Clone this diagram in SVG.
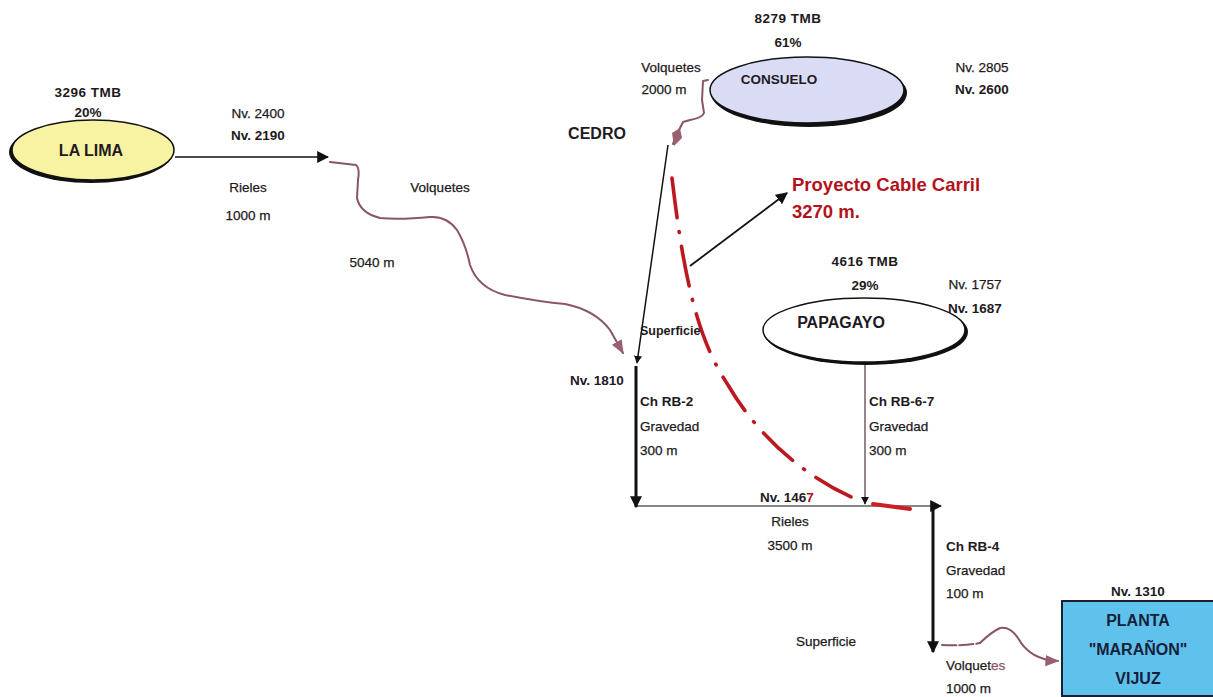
<svg xmlns="http://www.w3.org/2000/svg" width="1213" height="697" viewBox="0 0 1213 697">
<defs>
<style>
text{font-family:"Liberation Sans",Arial,sans-serif;fill:#1e1a22;}
.t{font-size:13.5px;stroke:#1e1a22;stroke-width:0.25px;}
.b{font-size:13.5px;font-weight:bold;}
.c{text-anchor:middle;}
.big{font-size:16px;font-weight:bold;}
.red{fill:#b3121b;font-size:18.5px;font-weight:bold;}
.blk{stroke:#111;fill:none;}
.mau{stroke:#8a5565;fill:none;stroke-width:2;stroke-linecap:round;stroke-linejoin:round;}
</style>
<marker id="ab" viewBox="0 0 10 10" refX="9" refY="5" markerWidth="8" markerHeight="8" markerUnits="userSpaceOnUse" orient="auto"><path d="M0,0 L10,5 L0,10 z" fill="#111"/></marker>
<marker id="abL" viewBox="0 0 10 10" refX="9" refY="5" markerWidth="12" markerHeight="12" markerUnits="userSpaceOnUse" orient="auto"><path d="M0,0 L10,5 L0,10 z" fill="#111"/></marker>
<marker id="am" viewBox="0 0 10 10" refX="9" refY="5" markerWidth="14" markerHeight="14" markerUnits="userSpaceOnUse" orient="auto"><path d="M0,1 L10,5 L0,9 z" fill="#9a6070"/></marker>
</defs>
<rect width="1213" height="697" fill="#ffffff"/>

<g id="connectors">
<line class="blk" x1="175" y1="157" x2="328" y2="157" stroke-width="1.5" marker-end="url(#abL)"/>
<path class="mau" d="M330,162 L356,165 Q360,168 358,180 L357,198 Q360,213 380,218 Q400,220 430,217 Q447,216 457,230 Q466,245 470,265 Q478,288 505,295 Q540,302 565,304 Q595,310 610,330 L623,353" marker-end="url(#am)"/>
<path class="mau" d="M708,80 L703,81 L702,100 L704,113 Q702,118 690,120 L683,122 L678,132 L673,144" stroke-width="2.5"/>
<path d="M672,133 L680,128 L682,138 L674,146 z" fill="#9a6070"/>
<line class="blk" x1="668" y1="145" x2="637" y2="363" stroke-width="1.5" marker-end="url(#ab)"/>
<line class="blk" x1="636" y1="366" x2="636" y2="507" stroke-width="3" marker-end="url(#abL)"/>
<line class="blk" x1="636" y1="506" x2="941" y2="506" stroke-width="1.2" marker-end="url(#abL)"/>
<line x1="865" y1="363" x2="865" y2="504" stroke="#4a3540" stroke-width="1.2" marker-end="url(#ab)"/>
<line class="blk" x1="933" y1="506" x2="933" y2="652" stroke-width="3" marker-end="url(#abL)"/>
<path class="mau" d="M942,645 Q965,646 980,643" stroke-dasharray="14 3"/>
<path class="mau" d="M980,643 Q990,633 1000,628 Q1010,626 1018,638 Q1030,660 1058,661" marker-end="url(#am)"/>
<path d="M672,178 C684,280 698,340 728,385 C760,440 810,480 858,500" fill="none" stroke="#bb1820" stroke-width="3.6" stroke-linecap="round" stroke-dasharray="40 14 1 14"/>
<path d="M873,504 L910,509" stroke="#cc1f24" stroke-width="4" stroke-linecap="round"/>
<line class="blk" x1="690" y1="266" x2="787" y2="193" stroke-width="1.8" marker-end="url(#abL)"/>
</g>

<g id="la-lima">
<ellipse cx="91" cy="152" rx="82" ry="31" fill="#111"/>
<ellipse cx="93" cy="150" rx="81" ry="30" fill="#f8f3a3" stroke="#111" stroke-width="1.5"/>
<text class="big c" x="91" y="156">LA LIMA</text>
<text class="b c" x="88" y="97" style="letter-spacing:0.5px">3296 TMB</text>
<text class="b c" x="88" y="117">20%</text>
</g>

<g id="consuelo">
<ellipse cx="809" cy="93" rx="98" ry="34" fill="#111"/>
<ellipse cx="807" cy="90" rx="97" ry="33" fill="#dadcf5" stroke="#111" stroke-width="1.5"/>
<text class="b c" x="779" y="84">CONSUELO</text>
<text class="b c" x="788" y="23" style="letter-spacing:0.5px">8279 TMB</text>
<text class="b c" x="788" y="47">61%</text>
</g>

<g id="papagayo">
<ellipse cx="866" cy="332" rx="102" ry="33" fill="#111"/>
<ellipse cx="864" cy="330" rx="101" ry="32" fill="#ffffff" stroke="#111" stroke-width="1.5"/>
<text class="big c" x="841" y="328">PAPAGAYO</text>
<text class="b c" x="865" y="266" style="letter-spacing:0.5px">4616 TMB</text>
<text class="b c" x="865" y="290">29%</text>
</g>

<g id="planta">
<rect x="1062" y="601" width="152" height="95" fill="#5fc2ec" stroke="#1a2030" stroke-width="2"/>
<text class="big c" x="1138" y="626" style="fill:#16203a">PLANTA</text>
<text class="big c" x="1138" y="655" style="fill:#16203a">"MARAÑON"</text>
<text class="big c" x="1138" y="684" style="fill:#16203a">VIJUZ</text>
<text class="b c" x="1138" y="596">Nv. 1310</text>
</g>

<g id="cedro">
<text class="big c" x="597" y="139">CEDRO</text>
</g>

<g id="labels">
<text class="t c" x="258" y="118">Nv. 2400</text>
<text class="b c" x="258" y="140">Nv. 2190</text>
<text class="t c" x="248" y="192">Rieles</text>
<text class="t c" x="248" y="220">1000 m</text>
<text class="t c" x="440" y="192">Volquetes</text>
<text class="t c" x="372" y="267">5040 m</text>
<text class="t c" x="671" y="72">Volquetes</text>
<text class="t c" x="664" y="94">2000 m</text>
<text class="t c" x="982" y="72">Nv. 2805</text>
<text class="b c" x="982" y="94">Nv. 2600</text>
<text class="red" x="792" y="191">Proyecto Cable Carril</text>
<text class="red" x="792" y="218">3270 m.</text>
<text class="t c" x="975" y="289">Nv. 1757</text>
<text class="b c" x="975" y="313">Nv. 1687</text>
<text class="b" x="640" y="335" style="font-size:12.5px">Superficie</text>
<text class="b c" x="597" y="385">Nv. 1810</text>
<text class="b" x="640" y="406">Ch RB-2</text>
<text class="t" x="640" y="431">Gravedad</text>
<text class="t" x="640" y="455">300 m</text>
<text class="b" x="869" y="406">Ch RB-6-7</text>
<text class="t" x="869" y="431">Gravedad</text>
<text class="t" x="869" y="455">300 m</text>
<text class="b" x="760" y="502">Nv. 146<tspan style="fill:#b3121b">7</tspan></text>
<text class="t c" x="790" y="526">Rieles</text>
<text class="t c" x="790" y="550">3500 m</text>
<text class="b" x="946" y="551">Ch RB-4</text>
<text class="t" x="946" y="575">Gravedad</text>
<text class="t" x="946" y="598">100 m</text>
<text class="t c" x="826" y="646">Superficie</text>
<text class="t" x="946" y="670">Volquet<tspan style="fill:#8a5565;stroke:#8a5565">es</tspan></text>
<text class="t" x="946" y="693">1000 m</text>
</g>
</svg>
